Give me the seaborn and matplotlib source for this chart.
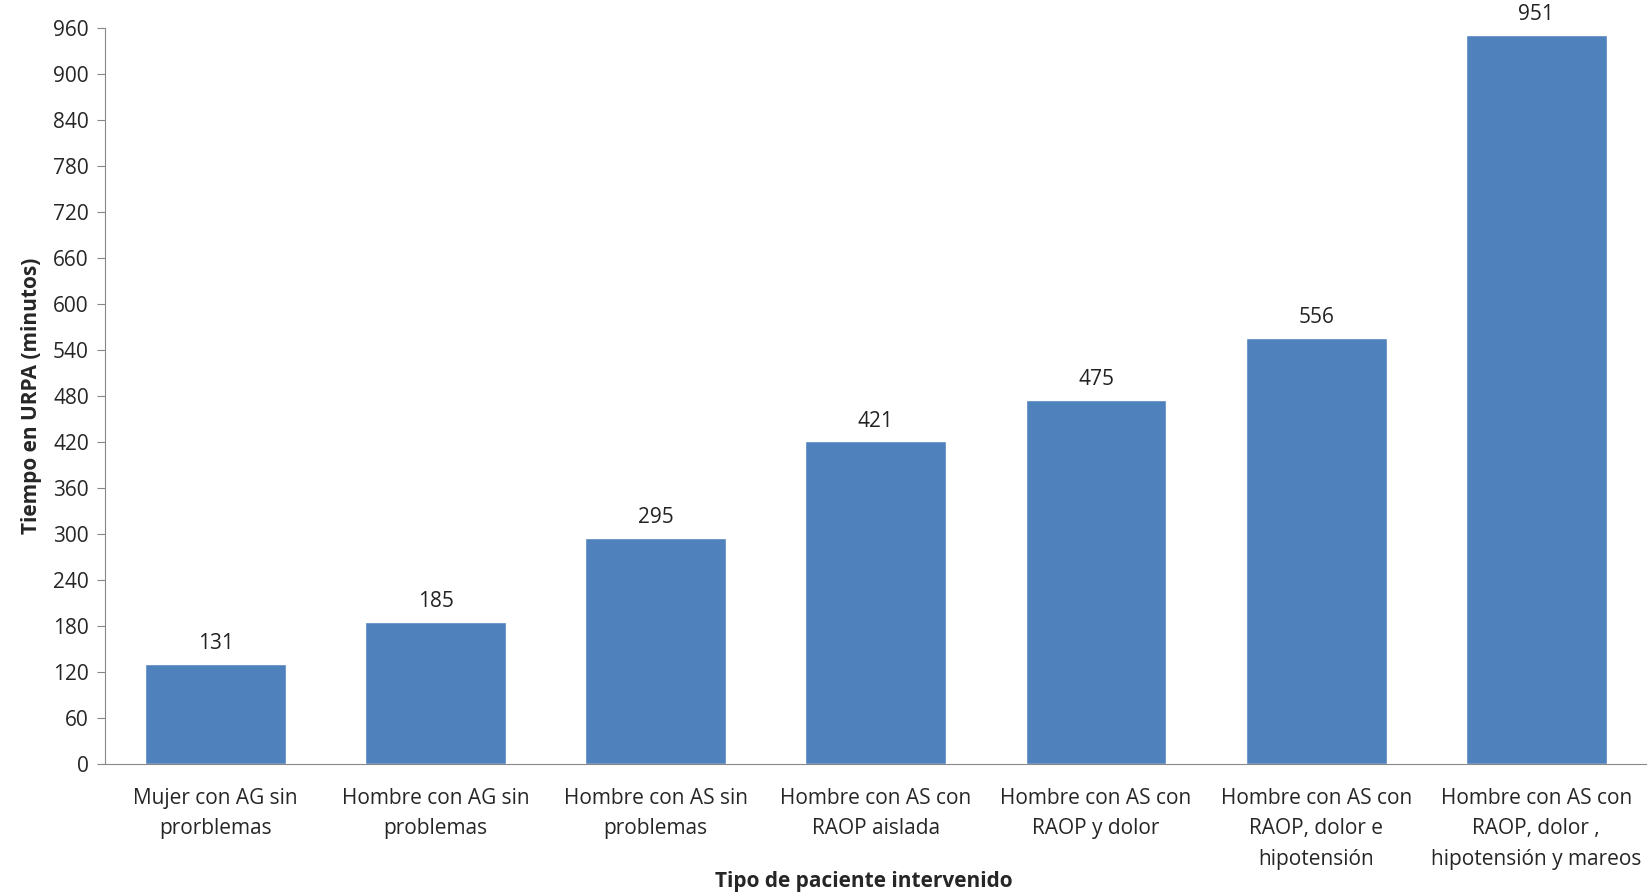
import matplotlib
matplotlib.use("Agg")
import matplotlib.pyplot as plt
import seaborn as sns
import pandas as pd

# Datos
categorias = [
    "Mujer con AG sin\nprorblemas",
    "Hombre con AG sin\nproblemas",
    "Hombre con AS sin\nproblemas",
    "Hombre con AS con\nRAOP aislada",
    "Hombre con AS con\nRAOP y dolor",
    "Hombre con AS con\nRAOP, dolor e\nhipotensión",
    "Hombre con AS con\nRAOP, dolor ,\nhipotensión y mareos",
]
tiempos = [131, 185, 295, 421, 475, 556, 951]
y_ticks = list(range(0, 961, 60))

df = pd.DataFrame({"Tipo": categorias, "Tiempo": tiempos})

sns.set_style("white")
plt.rcParams['font.family'] = ['Open Sans', 'DejaVu Sans']

fig = plt.figure(figsize=(16.48, 8.94), dpi=100)
ax = fig.add_axes([0.064, 0.1454, 0.935, 0.8233])

sns.barplot(data=df, x="Tipo", y="Tiempo", color="#4F81BD", width=0.64,
            saturation=1, ax=ax)

for i, v in enumerate(tiempos):
    ax.annotate(str(v), (i, v), xytext=(0, 7), textcoords="offset points",
                ha="center", va="bottom", fontsize=15, color="#222222")

ax.set_ylim(0, 960)
ax.set_xlim(-0.5, len(categorias) - 0.5)
ax.set_yticks(y_ticks)
ax.tick_params(axis="y", length=6, color="#888888", labelsize=15, pad=6, direction="out", left=True)
ax.tick_params(axis="x", length=0, labelsize=15, pad=17)
for lab in ax.get_xticklabels():
    lab.set_linespacing(1.6)

ax.set_xlabel("Tipo de paciente intervenido", fontsize=15, fontweight="bold")
ax.xaxis.set_label_coords(0.492, -0.159)
ax.xaxis.label.set_verticalalignment("center")
ax.set_ylabel("Tiempo en URPA (minutos)", fontsize=15, fontweight="bold", labelpad=8)

sns.despine(ax=ax, top=True, right=True)
ax.spines["left"].set_color("#888888")
ax.spines["bottom"].set_color("#888888")

fig.savefig("out.png", dpi=100)
